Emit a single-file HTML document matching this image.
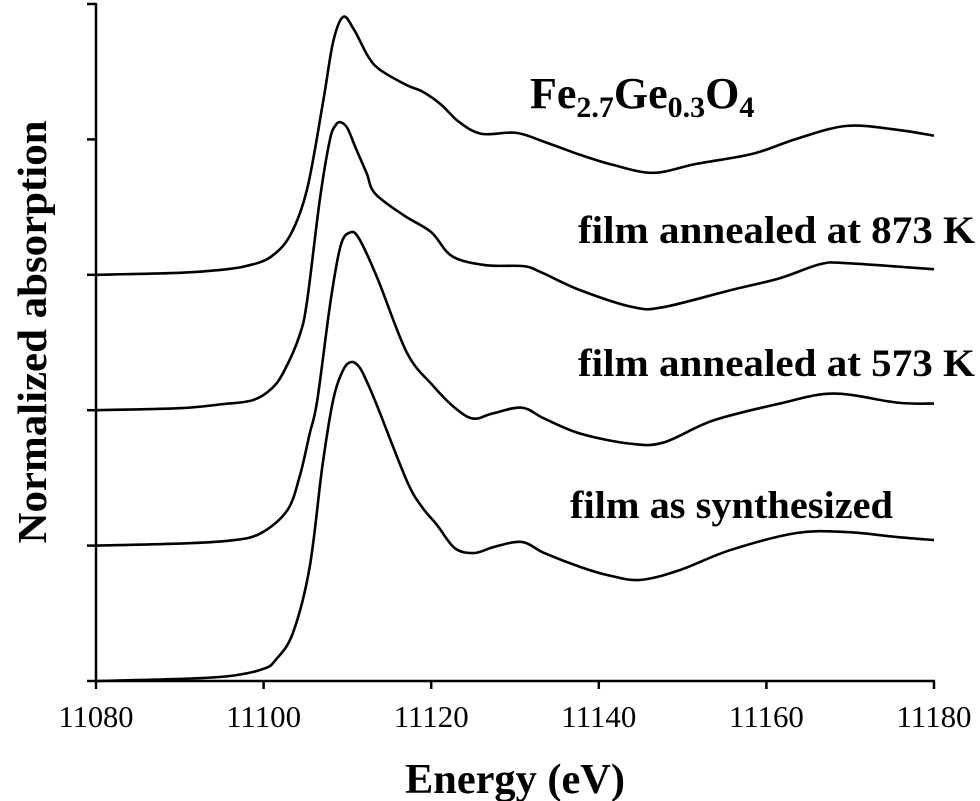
<!DOCTYPE html>
<html><head><meta charset="utf-8"><style>
html,body{margin:0;padding:0;background:#fff;}
svg{display:block;}
text{font-family:"Liberation Serif",serif;fill:#000;}
</style></head><body>
<svg id="chart" width="980" height="801" viewBox="0 0 980 801" xmlns="http://www.w3.org/2000/svg">
<g id="axes"></g>
<g id="series"></g>
<g id="labels">
<text x="530" y="108" font-size="44" font-weight="bold">Fe<tspan font-size="30" dy="9">2.7</tspan><tspan dy="-9">Ge</tspan><tspan font-size="30" dy="9">0.3</tspan><tspan dy="-9">O</tspan><tspan font-size="30" dy="9">4</tspan></text>
<text x="578" y="243" font-size="39" font-weight="bold" textLength="397" lengthAdjust="spacingAndGlyphs">film annealed at 873 K</text>
<text x="578" y="376" font-size="39" font-weight="bold" textLength="397" lengthAdjust="spacingAndGlyphs">film annealed at 573 K</text>
<text x="570" y="518" font-size="39" font-weight="bold" textLength="323" lengthAdjust="spacingAndGlyphs">film as synthesized</text>
</g>
<text x="405" y="793" font-size="42" font-weight="bold" textLength="220" lengthAdjust="spacingAndGlyphs">Energy (eV)</text>
<text transform="translate(46,332) rotate(-90)" font-size="41" font-weight="bold" text-anchor="middle" textLength="423" lengthAdjust="spacingAndGlyphs">Normalized absorption</text>
</svg>
<script>
const xTicks = [11080, 11100, 11120, 11140, 11160, 11180];
const yTicks = [0, 1, 2, 3, 4, 5];
const offsets = [0, 1, 2, 3];
const synthE = [11080,11090,11096,11100,11101.5,11103.5,11105.5,11107,11108.3,11109.5,11110.5,11111.5,11112.5,11113.6,11117.1,11118.9,11120.7,11122.8,11125.1,11127.5,11130.8,11133.5,11137.8,11141,11144.9,11149.7,11155.7,11163.6,11169.6,11175.6,11180];
const synthU = [0,0.015,0.037,0.09,0.16,0.355,0.842,1.58,2.075,2.297,2.356,2.312,2.186,2.024,1.477,1.285,1.152,0.982,0.945,0.990,1.027,0.945,0.842,0.783,0.746,0.820,0.967,1.093,1.100,1.063,1.041];
const k573E = [11080,11090,11096,11099.6,11102.8,11104.3,11105.5,11106.4,11108,11109.2,11110.3,11111.4,11113.6,11117.1,11120.2,11122.8,11125,11127.3,11130.8,11133.5,11137.8,11143.7,11147.7,11153.6,11161.6,11168,11175.6,11180];
const k573U = [0,0.015,0.037,0.089,0.258,0.51,0.827,1.071,1.809,2.216,2.312,2.267,1.972,1.425,1.182,1.019,0.938,0.975,1.019,0.938,0.827,0.753,0.761,0.923,1.049,1.123,1.056,1.049];
const k873E = [11080,11090,11095,11098.7,11101,11102.5,11104.3,11105.2,11106.7,11107.9,11108.6,11109.2,11110,11111,11112.3,11113.3,11116.7,11120,11122.5,11126.5,11131,11133.1,11137.8,11144.1,11147.7,11155.7,11161.6,11166.4,11169.6,11180];
const k873U = [0,0.015,0.044,0.074,0.162,0.295,0.554,0.812,1.551,1.994,2.105,2.127,2.083,1.935,1.75,1.6,1.440,1.315,1.137,1.071,1.064,1.019,0.886,0.761,0.761,0.886,0.975,1.078,1.086,1.041];
const feE = [11080,11090,11095,11098,11100.8,11103.2,11105.2,11107.1,11108.3,11109.5,11110.8,11112.5,11113.9,11117,11119,11121.2,11123.3,11126,11130.1,11133.5,11137.8,11141.7,11146.5,11151.7,11158.4,11163.6,11169.6,11175.6,11180];
const feU = [0,0.015,0.037,0.066,0.13,0.295,0.635,1.278,1.721,1.905,1.809,1.610,1.514,1.403,1.352,1.256,1.130,1.041,1.049,0.982,0.886,0.812,0.753,0.820,0.894,1.004,1.100,1.071,1.027];

const NS = "http://www.w3.org/2000/svg";
const X0 = 96, X1 = 934, Y0 = 681, Y1 = 4;
function xScale(e){ return X0 + (e - 11080) / 100 * (X1 - X0); }
function yScale(v){ return Y0 - v / 5 * (Y0 - Y1); }
function mk(tag, attrs, parent){ const el = document.createElementNS(NS, tag); for (const k in attrs) el.setAttribute(k, attrs[k]); parent.appendChild(el); return el; }

const axes = document.getElementById('axes');
let yl = mk('line', {x1:X0, y1:Y1-1, x2:X0, y2:Y0+1, stroke:'#000', 'stroke-width':2.5}, axes);


let xl = mk('line', {x1:X0-1, y1:Y0, x2:X1+1, y2:Y0, stroke:'#000', 'stroke-width':2.5}, axes);


yTicks.forEach(t => {
  const y = yScale(t);
  const tk = mk('line', {x1:X0-9, y1:y, x2:X0, y2:y, stroke:'#000', 'stroke-width':2.5}, axes);
  
  
});
xTicks.forEach(t => {
  const x = xScale(t);
  const tk = mk('line', {x1:x, y1:Y0, x2:x, y2:Y0+8, stroke:'#000', 'stroke-width':2.5}, axes);
  
  
  const lb = mk('text', {x:x, y:727, 'font-size':31, 'text-anchor':'middle', textLength:75, lengthAdjust:'spacingAndGlyphs'}, axes);
  lb.textContent = String(t);
  
  
});

function smoothPath(pts){
  let d = 'M' + pts[0][0].toFixed(2) + ',' + pts[0][1].toFixed(2);
  for (let i = 0; i < pts.length - 1; i++){
    const p0 = pts[Math.max(0, i-1)], p1 = pts[i], p2 = pts[i+1], p3 = pts[Math.min(pts.length-1, i+2)];
    const c1x = p1[0] + (p2[0]-p0[0])/6, c1y = p1[1] + (p2[1]-p0[1])/6;
    const c2x = p2[0] - (p3[0]-p1[0])/6, c2y = p2[1] - (p3[1]-p1[1])/6;
    d += ' C' + c1x.toFixed(2) + ',' + c1y.toFixed(2) + ' ' + c2x.toFixed(2) + ',' + c2y.toFixed(2) + ' ' + p2[0].toFixed(2) + ',' + p2[1].toFixed(2);
  }
  return d;
}
const seriesG = document.getElementById('series');
const allSeries = [[synthE, synthU, 'line-as-synthesized'], [k573E, k573U, 'line-573k'], [k873E, k873U, 'line-873k'], [feE, feU, 'line-fe-ge-o']];
allSeries.forEach((s, i) => {
  const pts = s[0].map((e, j) => [xScale(e), yScale(s[1][j] + offsets[i])]);
  const p = mk('path', {d: smoothPath(pts), fill:'none', stroke:'#000', 'stroke-width':2.6, 'stroke-linejoin':'round'}, seriesG);
  
  
});
</script>
</body></html>
